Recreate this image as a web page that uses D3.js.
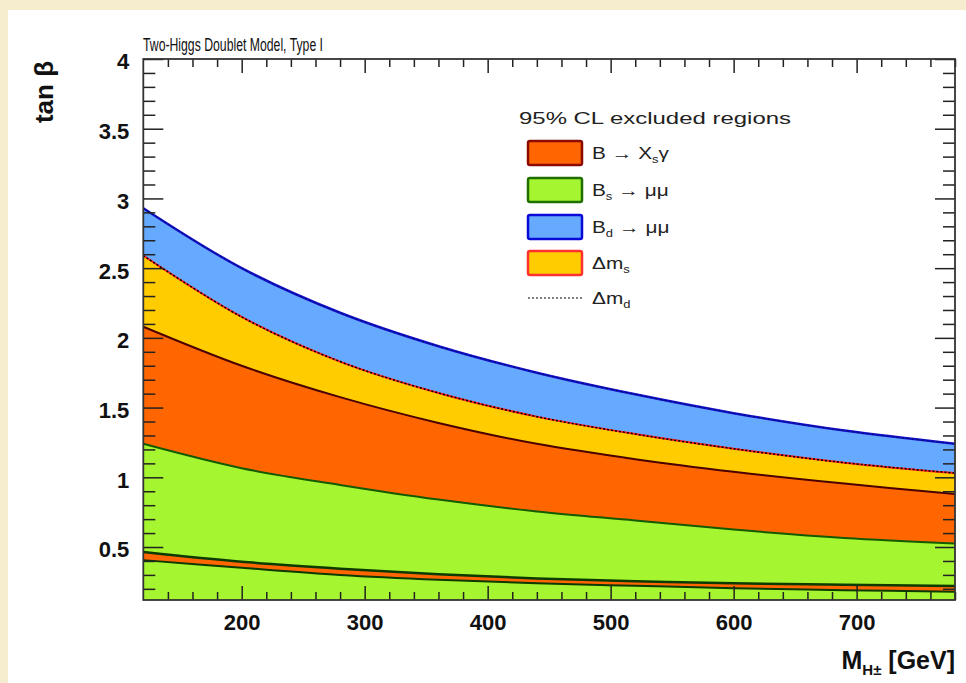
<!DOCTYPE html>
<html>
<head>
<meta charset="utf-8">
<script src="https://cdnjs.cloudflare.com/ajax/libs/d3/7.8.5/d3.min.js"></script>
<style>
  body { margin: 0; background: #f6edcf; }
  svg { display: block; font-family: "Liberation Sans", Arial, sans-serif; }
</style>
</head>
<body>
<script>

// charged higgs mass points (GeV)
var massPoints = [120, 200, 280, 360, 440, 520, 600, 690, 780];

// upper edges of the excluded bands, tan beta
var bdMuMu = [2.93, 2.50, 2.18, 1.94, 1.75, 1.595, 1.46, 1.335, 1.24];
var deltaMs = [2.59, 2.15, 1.83, 1.605, 1.435, 1.31, 1.205, 1.105, 1.03];
var bXsGamma = [2.08, 1.80, 1.575, 1.39, 1.24, 1.13, 1.04, 0.955, 0.88];
var bsMuMu = [1.24, 1.065, 0.945, 0.84, 0.755, 0.69, 0.625, 0.565, 0.525];

// thin B -> Xs gamma sliver at low tan beta
var sliverTop = [0.465, 0.395, 0.345, 0.305, 0.275, 0.255, 0.24, 0.23, 0.22];
var sliverBottom = [0.406, 0.351, 0.30, 0.265, 0.24, 0.222, 0.205, 0.19, 0.18];

var xTicks = [200, 300, 400, 500, 600, 700];
var yTicks = [0.5, 1, 1.5, 2, 2.5, 3, 3.5, 4];

var legendItems = [
  { fill: "#ff6600", stroke: "#8a0a00", label: ["B \u2192 X", "s", "\u03b3"] },
  { fill: "#a5f531", stroke: "#1f6e00", label: ["B", "s", " \u2192 \u03bc\u03bc"] },
  { fill: "#66aaff", stroke: "#0a0ad8", label: ["B", "d", " \u2192 \u03bc\u03bc"] },
  { fill: "#ffcc00", stroke: "#ff3030", label: ["\u0394m", "s", ""] }
];

const W = 966;
const H = 683;

var svg = d3.select("body").append("svg")
  .attr("width", W)
  .attr("height", H);

// white slide panel
svg.append("rect")
  .attr("x", 8).attr("y", 10)
  .attr("width", W - 8).attr("height", H - 10)
  .attr("fill", "#ffffff");

const x = d3.scaleLinear().domain([120, 780]).range([143.3, 955]);
const y = d3.scaleLinear().domain([0.12, 4]).range([600, 59]);

svg.append("clipPath").attr("id", "plotclip")
  .append("rect")
  .attr("x", x(120)).attr("y", y(4))
  .attr("width", x(780) - x(120)).attr("height", y(0.12) - y(4));

var plot = svg.append("g").attr("clip-path", "url(#plotclip)");

function band(lower, upper) {
  return d3.area()
    .x((d, i) => x(massPoints[i]))
    .y0((d, i) => y(lower[i]))
    .y1((d, i) => y(upper[i]))
    .curve(d3.curveCatmullRom)(massPoints);
}

function edge(vals) {
  return d3.line()
    .x((d, i) => x(massPoints[i]))
    .y((d, i) => y(vals[i]))
    .curve(d3.curveCatmullRom)(massPoints);
}

var floor = massPoints.map(() => 0.12);

plot.append("path").attr("d", band(floor, bsMuMu)).attr("fill", "#a5f531");
plot.append("path").attr("d", band(bsMuMu, bXsGamma)).attr("fill", "#ff6600");
plot.append("path").attr("d", band(bXsGamma, deltaMs)).attr("fill", "#ffcc00");
plot.append("path").attr("d", band(deltaMs, bdMuMu)).attr("fill", "#66aaff");
plot.append("path").attr("d", band(sliverBottom, sliverTop)).attr("fill", "#ff6600");

// boundary lines
plot.append("path").attr("d", edge(sliverBottom)).attr("fill", "none")
  .attr("stroke", "#0c3a00").attr("stroke-width", 2);
plot.append("path").attr("d", edge(sliverTop)).attr("fill", "none")
  .attr("stroke", "#0c3a00").attr("stroke-width", 2.5);
plot.append("path").attr("d", edge(bsMuMu)).attr("fill", "none")
  .attr("stroke", "#145a00").attr("stroke-width", 2);
plot.append("path").attr("d", edge(bXsGamma)).attr("fill", "none")
  .attr("stroke", "#4a0000").attr("stroke-width", 2);
plot.append("path").attr("d", edge(deltaMs)).attr("fill", "none")
  .attr("stroke", "#ff2020").attr("stroke-width", 2);
plot.append("path").attr("d", edge(deltaMs)).attr("fill", "none")
  .attr("stroke", "#000").attr("stroke-width", 1.5).attr("stroke-dasharray", "2,2");
plot.append("path").attr("d", edge(bdMuMu)).attr("fill", "none")
  .attr("stroke", "#1010c8").attr("stroke-width", 2.5);
plot.append("path").attr("d", edge(bdMuMu)).attr("fill", "none")
  .attr("stroke", "#000").attr("stroke-width", 1).attr("stroke-opacity", 0.5)
  .attr("stroke-dasharray", "2,3");

// axes, ROOT style ticks pointing inward on all four sides
var xMinor = d3.range(140, 781, 20).filter(v => v % 100 != 0);
var yMinor = d3.range(2, 40).map(v => v / 10).filter(v => Math.round(v * 10) % 5 != 0);

function axisGroup(axis, tx, ty) {
  var g = svg.append("g").attr("transform", "translate(" + tx + "," + ty + ")").call(axis);
  g.select(".domain").remove();
  g.selectAll(".tick line").attr("stroke", "#222").attr("stroke-width", 1.5);
  return g;
}

axisGroup(d3.axisBottom(x).tickValues(xMinor).tickSize(-8).tickFormat(""), 0, 600);
axisGroup(d3.axisTop(x).tickValues(xMinor).tickSize(-8).tickFormat(""), 0, 59);
axisGroup(d3.axisTop(x).tickValues(xTicks).tickSize(-14).tickFormat(""), 0, 59);
var xg = axisGroup(d3.axisBottom(x).tickValues(xTicks).tickSize(-14).tickPadding(0), 0, 600);
xg.selectAll("text")
  .attr("y", 30)
  .attr("dy", 0)
  .attr("fill", "#111")
  .attr("font-size", 22)
  .attr("font-weight", "bold");

axisGroup(d3.axisLeft(y).tickValues(yMinor).tickSize(-12).tickFormat(""), 143.3, 0);
axisGroup(d3.axisRight(y).tickValues(yMinor).tickSize(-12).tickFormat(""), 955, 0);
axisGroup(d3.axisRight(y).tickValues(yTicks).tickSize(-20).tickFormat(""), 955, 0);
var yg = axisGroup(d3.axisLeft(y).tickValues(yTicks).tickSize(-20).tickPadding(0)
  .tickFormat(d => String(d)), 143.3, 0);
yg.selectAll("text")
  .attr("x", -14)
  .attr("dy", "0.45em")
  .attr("fill", "#111")
  .attr("font-size", 22)
  .attr("font-weight", "bold");

// frame
svg.append("rect")
  .attr("x", x(120)).attr("y", y(4))
  .attr("width", x(780) - x(120)).attr("height", y(0.12) - y(4))
  .attr("fill", "none")
  .attr("stroke", "#333")
  .attr("stroke-width", 1.8);

// axis titles
svg.append("text")
  .attr("transform", "translate(53,61) rotate(-90)")
  .attr("text-anchor", "end")
  .attr("font-size", 26)
  .attr("font-weight", "bold")
  .attr("fill", "#111")
  .text("tan \u03b2");

var xt = svg.append("text")
  .attr("x", 955).attr("y", 669)
  .attr("text-anchor", "end")
  .attr("font-size", 25)
  .attr("font-weight", "bold")
  .attr("fill", "#111");
xt.append("tspan").text("M");
xt.append("tspan").attr("font-size", 15).attr("dy", 6).text("H\u00b1");
xt.append("tspan").attr("dy", -6).text(" [GeV]");

// title
svg.append("text")
  .attr("x", 143).attr("y", 51)
  .attr("font-size", 18)
  .attr("fill", "#111")
  .attr("textLength", 180)
  .attr("lengthAdjust", "spacingAndGlyphs")
  .text("Two-Higgs Doublet Model, Type I");

// legend
svg.append("text")
  .attr("x", 519).attr("y", 124)
  .attr("font-size", 17)
  .attr("fill", "#222")
  .attr("textLength", 272)
  .attr("lengthAdjust", "spacingAndGlyphs")
  .text("95% CL excluded regions");

var rowY = [153, 190, 227, 263, 298];

legendItems.forEach(function (d, i) {
  svg.append("rect")
    .attr("x", 528).attr("y", rowY[i] - 12)
    .attr("width", 54).attr("height", 24)
    .attr("rx", 2)
    .attr("fill", d.fill)
    .attr("stroke", d.stroke)
    .attr("stroke-width", 2.5);
  var t = svg.append("g")
    .attr("transform", "translate(592," + (rowY[i] + 6) + ") scale(1.3,1)")
    .append("text")
    .attr("font-size", 16)
    .attr("fill", "#222");
  t.append("tspan").text(d.label[0]);
  t.append("tspan").attr("font-size", 10).attr("dy", 4).text(d.label[1]);
  t.append("tspan").attr("dy", -4).text(d.label[2]);
});

// delta m_d dotted entry
svg.append("line")
  .attr("x1", 528).attr("x2", 582)
  .attr("y1", rowY[4]).attr("y2", rowY[4])
  .attr("stroke", "#555")
  .attr("stroke-width", 1.5)
  .attr("stroke-dasharray", "2,2");
var td = svg.append("g")
  .attr("transform", "translate(592," + (rowY[4] + 6) + ") scale(1.3,1)")
  .append("text")
  .attr("font-size", 16)
  .attr("fill", "#222");
td.append("tspan").text("\u0394m");
td.append("tspan").attr("font-size", 10).attr("dy", 4).text("d");

</script>
</body>
</html>
